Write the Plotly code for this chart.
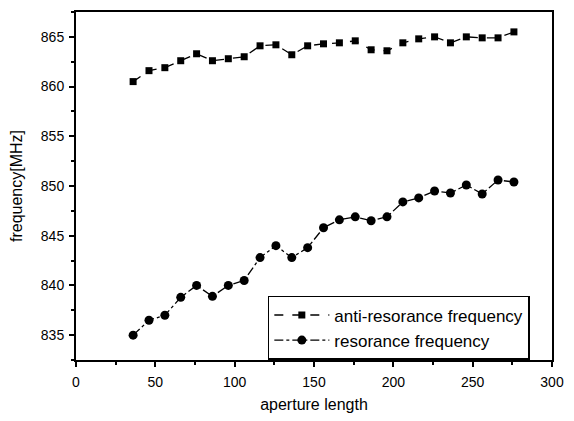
import plotly.graph_objects as go

aperture = [36, 46, 56, 66, 76, 86, 96, 106, 116, 126, 136, 146, 156, 166, 176,
            186, 196, 206, 216, 226, 236, 246, 256, 266, 276]
anti_res = [860.5, 861.6, 861.9, 862.6, 863.3, 862.6, 862.8, 863.0, 864.1, 864.2,
            863.2, 864.1, 864.3, 864.4, 864.6, 863.7, 863.6, 864.4, 864.8, 865.0,
            864.4, 865.0, 864.9, 864.9, 865.5]
res = [835.0, 836.5, 837.0, 838.8, 840.0, 838.9, 840.0, 840.5, 842.8, 844.0,
       842.8, 843.8, 845.8, 846.6, 846.9, 846.5, 846.9, 848.4, 848.8, 849.5,
       849.3, 850.1, 849.2, 850.6, 850.4]

fig = go.Figure()
fig.add_trace(go.Scatter(x=aperture, y=anti_res, mode="lines+markers",
                         name="anti-resorance frequency",
                         line=dict(color="black", width=1.3, dash="dash"),
                         marker=dict(symbol="square", size=7, color="black")))
fig.add_trace(go.Scatter(x=aperture, y=res, mode="lines+markers",
                         name="resorance frequency",
                         line=dict(color="black", width=1.3, dash="dashdot"),
                         marker=dict(symbol="circle", size=9, color="black")))

font = "Liberation Sans, Arial, sans-serif"
axis_common = dict(showline=True, linecolor="black", linewidth=2, mirror=True,
                   ticks="outside", ticklen=5, tickwidth=1.5, tickcolor="black",
                   showgrid=False, zeroline=False,
                   tickfont=dict(family=font, size=14, color="black"))
fig.update_xaxes(range=[0, 300], dtick=50, tick0=0, ticklabelstandoff=3,
                 minor=dict(dtick=25, ticks="outside", ticklen=3, tickcolor="black"),
                 title=dict(text="aperture length", font=dict(family=font, size=16, color="black"), standoff=10),
                 **axis_common)
fig.update_yaxes(range=[832.5, 867.5], dtick=5, tick0=835, ticklabelstandoff=2,
                 minor=dict(dtick=2.5, ticks="outside", ticklen=3, tickcolor="black"),
                 title=dict(text="frequency[MHz]", font=dict(family=font, size=16, color="black"), standoff=14),
                 **axis_common)
fig.update_layout(
    width=574, height=421,
    margin=dict(l=76, r=19, t=10, b=58),
    plot_bgcolor="white", paper_bgcolor="white",
    font=dict(family=font, color="black"),
    legend=dict(x=0.403, y=0.184, xanchor="left", yanchor="top",
                bordercolor="black", borderwidth=1.5, bgcolor="white",
                font=dict(family=font, size=17, color="black"),
                tracegroupgap=0, itemwidth=55),
)
fig.write_html("out.html")
